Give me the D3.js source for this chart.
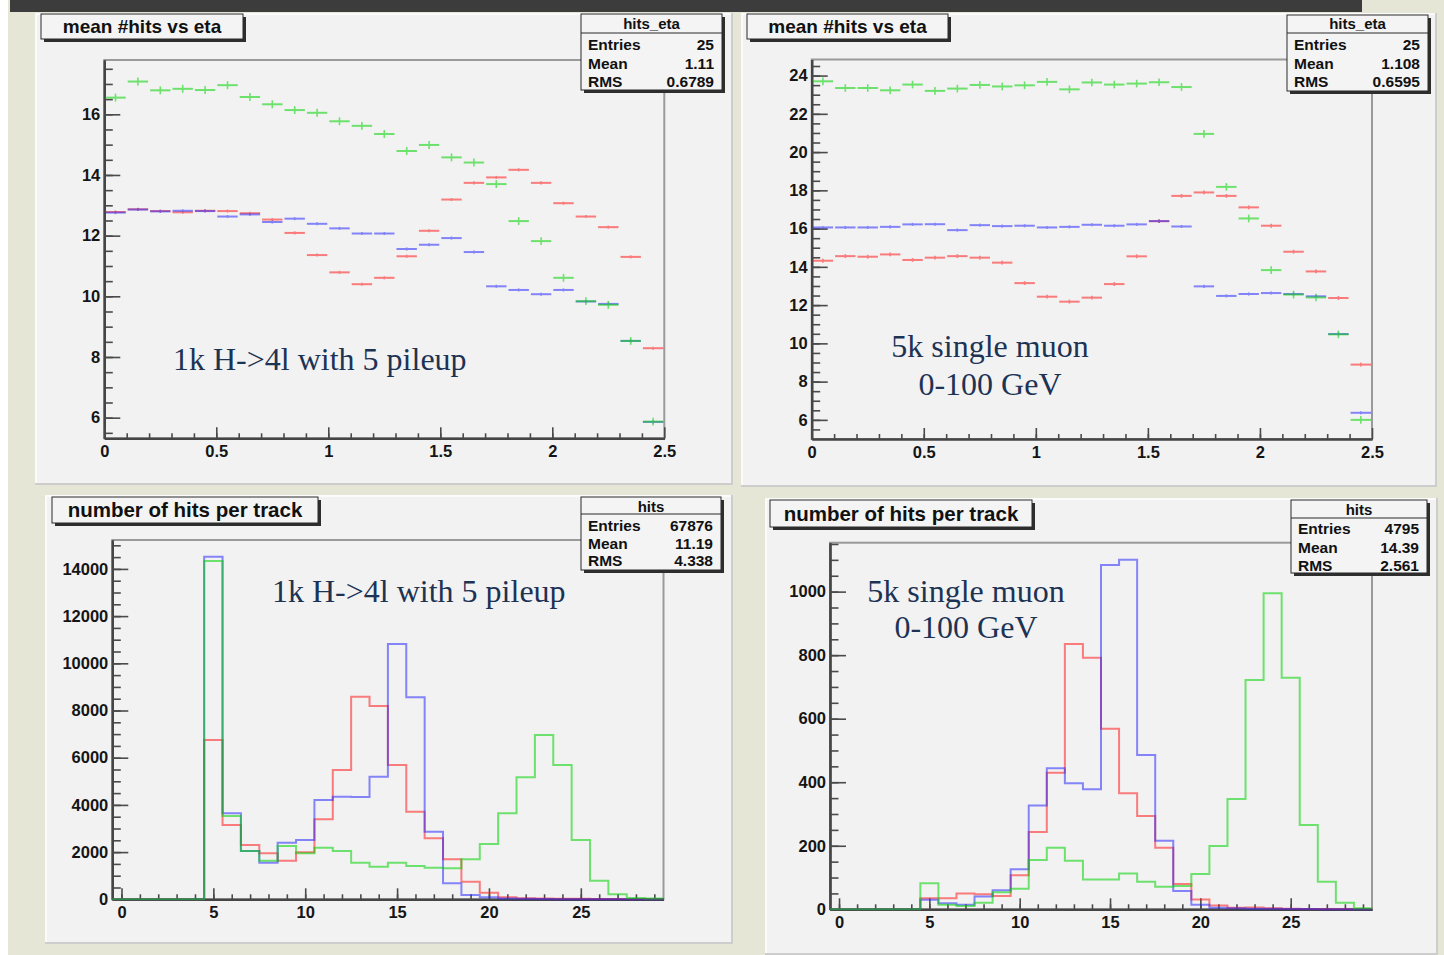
<!DOCTYPE html>
<html>
<head>
<meta charset="utf-8">
<script src="https://cdn.jsdelivr.net/npm/d3@7"></script>
<style>
  html, body { margin: 0; padding: 0; background: #ffffff; }
  svg { display: block; }
  .tick text { font-family: "Liberation Sans", Arial, sans-serif; font-weight: bold; fill: #151515; }
</style>
</head>
<body>
<div id="chart"></div>
<script>
// ---------------- data ----------------

// eta profiles: 25 bins of width 0.1 between 0 and 2.5
const etaCenters = [0.05, 0.15, 0.25, 0.35, 0.45, 0.55, 0.65, 0.75, 0.85, 0.95,
                    1.05, 1.15, 1.25, 1.35, 1.45, 1.55, 1.65, 1.75, 1.85, 1.95,
                    2.05, 2.15, 2.25, 2.35, 2.45]
const etaBinWidth = 0.1

// top left: 1k H->4l with 5 pileup
const h4lEtaGreen = [16.55, 17.08, 16.79, 16.84, 16.80, 16.96, 16.57, 16.33, 16.14, 16.05,
                     15.77, 15.62, 15.35, 14.79, 14.99, 14.58, 14.41, 13.70, 12.48, 11.82,
                     10.61, 9.84, 9.72, 8.53, 5.87]
const h4lEtaRed   = [12.78, 12.87, 12.81, 12.77, 12.82, 12.81, 12.74, 12.53, 12.09, 11.36,
                     10.79, 10.40, 10.61, 11.32, 12.16, 13.19, 13.74, 13.92, 14.17, 13.74,
                     13.07, 12.63, 12.28, 11.30, 8.29]
const h4lEtaBlue  = [12.76, 12.86, 12.80, 12.82, 12.81, 12.63, 12.70, 12.45, 12.56, 12.39,
                     12.24, 12.07, 12.07, 11.56, 11.70, 11.92, 11.46, 10.33, 10.21, 10.07,
                     10.21, 9.83, 9.75, 8.53, 5.86]
const h4lEtaErr   = {green: 0.13, red: 0.05, blue: 0.05}

// top right: 5k single muon 0-100 GeV
const muEtaGreen = [23.70, 23.35, 23.35, 23.23, 23.53, 23.20, 23.32, 23.51, 23.43, 23.49,
                    23.67, 23.28, 23.64, 23.53, 23.58, 23.65, 23.40, 20.95, 18.18, 16.53,
                    13.83, 12.55, 12.40, 10.47, 6.00]
const muEtaRed   = [14.32, 14.56, 14.53, 14.65, 14.36, 14.48, 14.56, 14.48, 14.22, 13.15,
                    12.44, 12.18, 12.39, 13.10, 14.55, 16.39, 17.71, 17.89, 17.71, 17.11,
                    16.15, 14.79, 13.76, 12.37, 8.89]
const muEtaBlue  = [16.06, 16.06, 16.06, 16.09, 16.22, 16.23, 15.92, 16.18, 16.13, 16.15,
                    16.06, 16.09, 16.20, 16.15, 16.22, 16.39, 16.11, 12.98, 12.48, 12.58,
                    12.63, 12.58, 12.46, 10.49, 6.37]
const muEtaErr   = {green: 0.2, red: 0.1, blue: 0.08}

// hits per track: 30 unit bins centred on 0..29
const hitBins = [0, 1, 2, 3, 4, 5, 6, 7, 8, 9, 10, 11, 12, 13, 14,
                 15, 16, 17, 18, 19, 20, 21, 22, 23, 24, 25, 26, 27, 28, 29]

const h4lHitsBlue  = [0, 0, 0, 0, 0, 14517, 3644, 2047, 1551, 2398, 2513, 4208, 4349, 4330, 5195,
                      10818, 8559, 2866, 678, 182, 85, 30, 20, 10, 5, 5, 3, 2, 1, 0]
const h4lHitsRed   = [0, 0, 0, 0, 0, 6750, 3148, 2300, 1949, 1636, 1990, 3390, 5479, 8585, 8191,
                      5691, 3713, 2584, 1695, 746, 280, 85, 40, 30, 25, 20, 15, 12, 10, 8]
const h4lHitsGreen = [0, 0, 0, 0, 0, 14335, 3530, 2047, 1636, 2258, 1949, 2187, 2047, 1551, 1381,
                      1551, 1411, 1341, 1313, 1695, 2343, 3644, 5169, 6962, 5691, 2513, 788, 212, 55, 30]

const muHitsBlue  = [0, 0, 0, 0, 0, 30, 19, 14, 40, 60, 126, 327, 444, 397, 378,
                     1084, 1100, 486, 216, 58, 14, 5, 3, 2, 2, 1, 1, 0, 0, 0]
const muHitsRed   = [0, 0, 0, 0, 0, 35, 35, 50, 47, 42, 107, 243, 430, 835, 792,
                     568, 365, 294, 194, 80, 31, 12, 5, 6, 3, 2, 1, 1, 1, 1]
const muHitsGreen = [0, 0, 0, 0, 0, 82, 14, 10, 21, 54, 65, 155, 194, 153, 94,
                     94, 113, 87, 71, 73, 111, 199, 347, 722, 995, 729, 265, 87, 21, 3]

// tick labels
const etaTicks = [0, 0.5, 1, 1.5, 2, 2.5]
const etaTickLabels = ["0", "0.5", "1", "1.5", "2", "2.5"]
const h4lEtaYTicks = [6, 8, 10, 12, 14, 16]
const muEtaYTicks = [6, 8, 10, 12, 14, 16, 18, 20, 22, 24]
const hitTicks = [0, 5, 10, 15, 20, 25]
const h4lHitsYTicks = [0, 2000, 4000, 6000, 8000, 10000, 12000, 14000]
const muHitsYTicks = [0, 200, 400, 600, 800, 1000]

// texts
const statLabels = ["Entries", "Mean", "RMS"]
const h4lEtaStats = ["25", "1.11", "0.6789"]
const muEtaStats = ["25", "1.108", "0.6595"]
const h4lHitsStats = ["67876", "11.19", "4.338"]
const muHitsStats = ["4795", "14.39", "2.561"]

// ---------------- drawing ----------------
const W = 1444, H = 955
const sans = '"Liberation Sans", Arial, Helvetica, sans-serif'
const serif = '"Liberation Serif", "Times New Roman", serif'
const colors = {red: "#ff1a1a", blue: "#2a2aff", green: "#00d400"}
const lineOpacity = 0.55

const svg = d3.select("#chart").append("svg")
    .attr("width", W)
    .attr("height", H)

// canvas background
svg.append("rect").attr("width", W).attr("height", H).attr("fill", "#ffffff")
svg.append("rect").attr("x", 8).attr("y", 0).attr("width", W - 8).attr("height", H).attr("fill", "#e6e6d7")
svg.append("rect").attr("x", 10).attr("y", 0).attr("width", 1352).attr("height", 12).attr("fill", "#3c3c3c")

function drawPad(x, y, w, h) {
    svg.append("rect")
        .attr("x", x).attr("y", y).attr("width", w).attr("height", h)
        .attr("fill", "#f2f2f2")
    svg.append("path")
        .attr("d", `M${x + 1},${y + h}V${y + 1}H${x + w}`)
        .attr("stroke", "#fbfbfb").attr("stroke-width", 2).attr("fill", "none")
    svg.append("path")
        .attr("d", `M${x + w - 1},${y}V${y + h - 1}H${x}`)
        .attr("stroke", "#cdcdcd").attr("stroke-width", 2).attr("fill", "none")
}

// frame with ROOT-like inward ticks
function drawFrame(f, opt) {
    let g = svg.append("g")
    let x = d3.scaleLinear().domain(opt.xDom).range([f.x0, f.x1])
    let y = d3.scaleLinear().domain(opt.yDom).range([f.y1, f.y0])

    g.append("rect")
        .attr("x", f.x0).attr("y", f.y0)
        .attr("width", f.x1 - f.x0).attr("height", f.y1 - f.y0)
        .attr("fill", "#f2f2f2")
        .attr("stroke", "#9a9a9a").attr("stroke-width", 2)

    let axes = [
        d3.axisLeft(y).tickValues(opt.yMinor).tickSize(-8.5).tickFormat(""),
        d3.axisLeft(y).tickValues(opt.yMajor).tickSize(-16).tickPadding(4)
            .tickFormat((d, i) => opt.yLabels[i])
    ]
    axes.forEach(a => {
        g.append("g")
            .attr("transform", `translate(${f.x0},0)`)
            .call(a.tickSizeOuter(0))
    })
    let xaxes = [
        d3.axisBottom(x).tickValues(opt.xMinor).tickSize(-5).tickFormat(""),
        d3.axisBottom(x).tickValues(opt.xMajor).tickSize(-11).tickPadding(7)
            .tickFormat((d, i) => opt.xLabels[i])
    ]
    xaxes.forEach(a => {
        g.append("g")
            .attr("transform", `translate(0,${f.y1})`)
            .call(a.tickSizeOuter(0))
    })

    g.selectAll(".domain").attr("stroke", "#454545").attr("stroke-width", 2.2)
    g.selectAll(".tick line").attr("stroke", "#4a4a4a").attr("stroke-width", 1.6)
    g.selectAll(".tick text").style("font-size", "16.5px")
    return {x: x, y: y, g: g}
}

// profile drawn as ROOT error crosses
function drawProfile(fr, values, err, color) {
    let g = fr.g.append("g").attr("opacity", lineOpacity)
    let pts = etaCenters.map((c, i) => ({c: c, v: values[i]}))
    g.selectAll(".hbar").data(pts).enter().append("line")
        .attr("x1", d => fr.x(d.c - etaBinWidth / 2) + 1)
        .attr("x2", d => fr.x(d.c + etaBinWidth / 2) - 1)
        .attr("y1", d => fr.y(d.v)).attr("y2", d => fr.y(d.v))
        .attr("stroke", color).attr("stroke-width", 2)
    g.selectAll(".vbar").data(pts).enter().append("line")
        .attr("x1", d => fr.x(d.c)).attr("x2", d => fr.x(d.c))
        .attr("y1", d => fr.y(d.v - err)).attr("y2", d => fr.y(d.v + err))
        .attr("stroke", color).attr("stroke-width", 1.6)
}

// step histogram outline
function drawHist(fr, values, color) {
    let pts = [[hitBins[0] - 0.5, 0]]
    hitBins.forEach((b, i) => {
        pts.push([b - 0.5, values[i]])
        pts.push([b + 0.5, values[i]])
    })
    let line = d3.line()
        .x(d => fr.x(d[0]))
        .y(d => fr.y(d[1]))
    fr.g.append("path")
        .datum(pts)
        .attr("d", line)
        .attr("fill", "none")
        .attr("stroke", color)
        .attr("stroke-width", 2)
        .attr("stroke-opacity", lineOpacity)
}

function drawTitle(x, y, w, h, text, size, baseline) {
    svg.append("rect").attr("x", x + 3).attr("y", y + 3).attr("width", w).attr("height", h).attr("fill", "#2e2e2e")
    svg.append("rect").attr("x", x).attr("y", y).attr("width", w).attr("height", h)
        .attr("fill", "#f4f4f4").attr("stroke", "#2a2a2a").attr("stroke-width", 1)
    svg.append("text")
        .attr("x", x + w / 2).attr("y", baseline)
        .attr("text-anchor", "middle")
        .style("font-family", sans).style("font-weight", "bold")
        .style("font-size", size + "px").style("fill", "#111")
        .text(text)
}

function drawStats(b, title, values) {
    svg.append("rect").attr("x", b.x + 3).attr("y", b.y + 3).attr("width", b.w).attr("height", b.h).attr("fill", "#2e2e2e")
    svg.append("rect").attr("x", b.x).attr("y", b.y).attr("width", b.w).attr("height", b.h)
        .attr("fill", "#f4f4f4").attr("stroke", "#2a2a2a").attr("stroke-width", 1)
    svg.append("line")
        .attr("x1", b.x).attr("x2", b.x + b.w).attr("y1", b.sep).attr("y2", b.sep)
        .attr("stroke", "#2a2a2a").attr("stroke-width", 1.2)
    svg.append("text")
        .attr("x", b.x + b.w / 2).attr("y", b.titleBase)
        .attr("text-anchor", "middle")
        .style("font-family", sans).style("font-weight", "bold").style("font-size", "15px").style("fill", "#111")
        .text(title)
    statLabels.forEach((lab, i) => {
        svg.append("text")
            .attr("x", b.x + 7).attr("y", b.rows[i])
            .style("font-family", sans).style("font-weight", "bold").style("font-size", "15.5px").style("fill", "#111")
            .text(lab)
        svg.append("text")
            .attr("x", b.x + b.w - 8).attr("y", b.rows[i])
            .attr("text-anchor", "end")
            .style("font-family", sans).style("font-weight", "bold").style("font-size", "15.5px").style("fill", "#111")
            .text(values[i])
    })
}

function drawNote(lines, x, anchor, baselines) {
    lines.forEach((t, i) => {
        svg.append("text")
            .attr("x", x).attr("y", baselines[i])
            .attr("text-anchor", anchor)
            .style("font-family", serif).style("font-size", "32px").style("fill", "#1d3354")
            .text(t)
    })
}

// ---- top left ----
drawPad(35, 13, 698, 472)
let tl = drawFrame({x0: 104.3, x1: 664.3, y0: 60, y1: 438.3}, {
    xDom: [0, 2.5], yDom: [5.32, 17.79],
    xMajor: etaTicks, xLabels: etaTickLabels, xMinor: d3.range(0.1, 2.5, 0.1),
    yMajor: h4lEtaYTicks, yLabels: h4lEtaYTicks.map(String), yMinor: d3.range(5.5, 17.75, 0.5)
})
drawProfile(tl, h4lEtaRed, h4lEtaErr.red, colors.red)
drawProfile(tl, h4lEtaBlue, h4lEtaErr.blue, colors.blue)
drawProfile(tl, h4lEtaGreen, h4lEtaErr.green, colors.green)
drawNote(["1k H->4l with 5 pileup"], 173, "start", [370])
drawTitle(41, 14, 202, 25, "mean #hits vs eta", 19, 33)
drawStats({x: 581, y: 14, w: 141, h: 76, sep: 33, titleBase: 29, rows: [50, 69, 87]}, "hits_eta", h4lEtaStats)

// ---- top right ----
drawPad(741, 13, 696, 474)
let tr = drawFrame({x0: 811.7, x1: 1372, y0: 59.5, y1: 439}, {
    xDom: [0, 2.5], yDom: [5.0, 24.84],
    xMajor: etaTicks, xLabels: etaTickLabels, xMinor: d3.range(0.1, 2.5, 0.1),
    yMajor: muEtaYTicks, yLabels: muEtaYTicks.map(String), yMinor: d3.range(5.5, 24.8, 0.5)
})
drawProfile(tr, muEtaRed, muEtaErr.red, colors.red)
drawProfile(tr, muEtaBlue, muEtaErr.blue, colors.blue)
drawProfile(tr, muEtaGreen, muEtaErr.green, colors.green)
drawNote(["5k single muon", "0-100 GeV"], 990, "middle", [357, 395])
drawTitle(747, 14, 201, 25, "mean #hits vs eta", 19, 33)
drawStats({x: 1287, y: 15, w: 141, h: 76, sep: 33, titleBase: 29, rows: [50, 69, 87]}, "hits_eta", muEtaStats)

// ---- bottom left ----
drawPad(45, 495, 688, 449)
let bl = drawFrame({x0: 112.3, x1: 663.5, y0: 540, y1: 899.3}, {
    xDom: [-0.5, 29.5], yDom: [0, 15225],
    xMajor: hitTicks, xLabels: hitTicks.map(String), xMinor: d3.range(0, 30, 1),
    yMajor: h4lHitsYTicks, yLabels: h4lHitsYTicks.map(String), yMinor: d3.range(500, 15225, 500)
})
drawHist(bl, h4lHitsRed, colors.red)
drawHist(bl, h4lHitsBlue, colors.blue)
drawHist(bl, h4lHitsGreen, colors.green)
drawNote(["1k H->4l with 5 pileup"], 272, "start", [602])
drawTitle(52, 497, 266, 26, "number of hits per track", 20.5, 517)
drawStats({x: 581, y: 497, w: 140, h: 73, sep: 514, titleBase: 512, rows: [531, 549, 566]}, "hits", h4lHitsStats)

// ---- bottom right ----
drawPad(765, 498, 673, 457)
let br = drawFrame({x0: 830, x1: 1372, y0: 542.7, y1: 909.3}, {
    xDom: [-0.5, 29.5], yDom: [0, 1154],
    xMajor: hitTicks, xLabels: hitTicks.map(String), xMinor: d3.range(0, 30, 1),
    yMajor: muHitsYTicks, yLabels: muHitsYTicks.map(String), yMinor: d3.range(50, 1154, 50)
})
drawHist(br, muHitsRed, colors.red)
drawHist(br, muHitsBlue, colors.blue)
drawHist(br, muHitsGreen, colors.green)
drawNote(["5k single muon", "0-100 GeV"], 966, "middle", [602, 638])
drawTitle(770, 500, 262, 27, "number of hits per track", 20.5, 521)
drawStats({x: 1291, y: 500, w: 136, h: 73, sep: 518, titleBase: 515, rows: [534, 553, 571]}, "hits", muHitsStats)
</script>
</body>
</html>
